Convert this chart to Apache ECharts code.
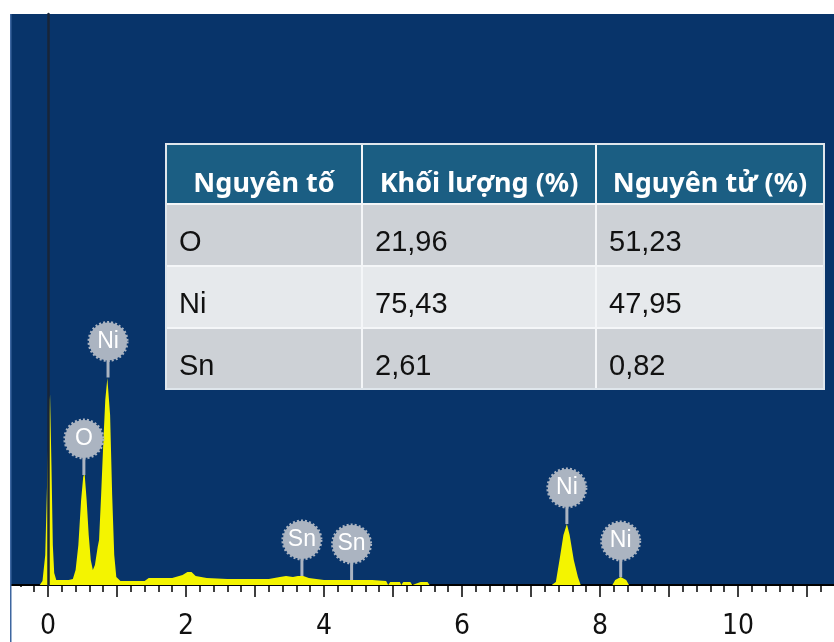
<!DOCTYPE html>
<html>
<head>
<meta charset="utf-8">
<script src="https://cdn.jsdelivr.net/npm/echarts@6/dist/echarts.min.js"></script>
<style>
  html, body { margin: 0; padding: 0; background: #ffffff; }
  #chart { width: 834px; height: 642px; }
</style>
</head>
<body>
<div id="chart"></div>
<script>
// EDS spectrum of the Ni–O–Sn sample: energy (keV) and counts
const energyKeV = [-1.0, -0.12, -0.08, -0.04, -0.01, 0.02, 0.03, 0.05, 0.07, 0.09, 0.12, 0.20, 0.30, 0.36, 0.40, 0.44, 0.48, 0.51, 0.53, 0.56, 0.59, 0.62, 0.65, 0.68, 0.72, 0.74, 0.77, 0.80, 0.83, 0.86, 0.88, 0.90, 0.93, 0.96, 0.99, 1.05, 1.20, 1.40, 1.46, 1.60, 1.80, 1.95, 2.02, 2.08, 2.14, 2.30, 2.60, 2.90, 3.20, 3.36, 3.45, 3.55, 3.62, 3.70, 3.78, 4.00, 4.40, 4.70, 4.90, 4.93, 4.96, 5.10, 5.12, 5.15, 5.25, 5.28, 5.40, 5.50, 5.53, 7.30, 7.36, 7.42, 7.47, 7.52, 7.56, 7.62, 7.68, 7.72, 8.18, 8.22, 8.30, 8.38, 8.42, 12.0];
const counts = [0, 0, 40, 300, 1100, 1850, 1900, 1200, 400, 120, 50, 50, 50, 60, 150, 400, 850, 1080, 1120, 850, 500, 250, 150, 200, 380, 450, 900, 1400, 1850, 2070, 2080, 1700, 900, 300, 80, 40, 40, 40, 70, 70, 70, 100, 130, 130, 90, 70, 60, 60, 60, 80, 90, 80, 90, 90, 70, 50, 50, 50, 40, 0, 30, 30, 0, 30, 30, 0, 30, 30, 0, 0, 30, 280, 500, 610, 500, 250, 80, 0, 0, 50, 80, 50, 0, 0];

// Identified peaks
const peakElements = ['O', 'Ni', 'Sn', 'Sn', 'Ni', 'Ni'];
const peakEnergies = [0.52, 0.87, 3.68, 4.40, 7.52, 8.30];

// Composition table
const tableHeader = ['Nguyên tố', 'Khối lượng (%)', 'Nguyên tử (%)'];
const tableElements = ['O', 'Ni', 'Sn'];
const massPercent = [21.96, 75.43, 2.61];
const atomicPercent = [51.23, 47.95, 0.82];

// Energy axis
const energyMin = -1;
const energyMax = 12;
const countsMax = 5710;

const spectrum = energyKeV.map((e, i) => [e, counts[i]]);

// Linear interpolation of the spectrum at a given energy
function countsAt(e) {
  for (let i = 1; i < energyKeV.length; i++) {
    if (e <= energyKeV[i]) {
      const e0 = energyKeV[i - 1], e1 = energyKeV[i];
      const t = (e - e0) / (e1 - e0);
      return counts[i - 1] + t * (counts[i] - counts[i - 1]);
    }
  }
  return 0;
}

const peakData = peakEnergies.map((e, i) => ({ name: peakElements[i], value: [e, countsAt(e)] }));

const fmt = v => v.toFixed(2).replace('.', ',');

// ---- table drawn as graphic elements ----
const colEdges = [166, 362, 596, 824];
const rowEdges = [144, 204, 266, 328, 389];
const bodyFills = ['#cdd1d6', '#e6e9ec', '#cdd1d6'];
const tableRows = tableElements.map((el, i) => [el, fmt(massPercent[i]), fmt(atomicPercent[i])]);

const tableGraphics = [];
tableGraphics.push({
  type: 'rect', z: 100,
  shape: { x: colEdges[0], y: rowEdges[0], width: colEdges[3] - colEdges[0], height: rowEdges[1] - rowEdges[0] },
  style: { fill: '#1b5e83' }
});
for (let r = 0; r < tableRows.length; r++) {
  tableGraphics.push({
    type: 'rect', z: 100,
    shape: { x: colEdges[0], y: rowEdges[r + 1], width: colEdges[3] - colEdges[0], height: rowEdges[r + 2] - rowEdges[r + 1] },
    style: { fill: bodyFills[r] }
  });
}
// inner grid lines
for (let c = 1; c < colEdges.length - 1; c++) {
  tableGraphics.push({
    type: 'line', z: 101,
    shape: { x1: colEdges[c], y1: rowEdges[0], x2: colEdges[c], y2: rowEdges[rowEdges.length - 1] },
    style: { stroke: '#f4f6f8', lineWidth: 2 }
  });
}
for (let r = 1; r < rowEdges.length - 1; r++) {
  tableGraphics.push({
    type: 'line', z: 101,
    shape: { x1: colEdges[0], y1: rowEdges[r], x2: colEdges[3], y2: rowEdges[r] },
    style: { stroke: '#f4f6f8', lineWidth: 2 }
  });
}
// outer frame
tableGraphics.push({
  type: 'rect', z: 102,
  shape: { x: colEdges[0], y: rowEdges[0], width: colEdges[3] - colEdges[0], height: rowEdges[4] - rowEdges[0] },
  style: { fill: 'none', stroke: '#dfe6ec', lineWidth: 2 }
});
// header text
tableHeader.forEach((h, c) => {
  tableGraphics.push({
    type: 'text', z: 103,
    x: (colEdges[c] + colEdges[c + 1]) / 2, y: 184,
    style: {
      text: h, fill: '#ffffff', align: 'center', verticalAlign: 'middle',
      font: 'bold 27px "Noto Sans", "Open Sans", sans-serif'
    }
  });
});
// body text
tableRows.forEach((row, r) => {
  row.forEach((cell, c) => {
    tableGraphics.push({
      type: 'text', z: 103,
      x: colEdges[c] + 13, y: (rowEdges[r + 1] + rowEdges[r + 2]) / 2 + 8,
      style: {
        text: cell, fill: '#111111', align: 'left', verticalAlign: 'middle',
        font: '29px "Liberation Sans", Arial, sans-serif'
      }
    });
  });
});

// page frame: white margin at the left with a thin edge line
const frameGraphics = [
  { type: 'rect', z: 90, shape: { x: 0, y: 0, width: 10, height: 642 }, style: { fill: '#ffffff' } },
  { type: 'rect', z: 90, shape: { x: 10, y: 587, width: 18, height: 20 }, style: { fill: '#ffffff' } },
  { type: 'rect', z: 91, shape: { x: 10, y: 14, width: 1.5, height: 628 }, style: { fill: '#3d66a0' } }
];

const chart = echarts.init(document.getElementById('chart'));

const cogColor = '#abb4c1';

chart.setOption({
  animation: false,
  backgroundColor: '#ffffff',
  grid: {
    left: -21, right: -42, top: 14, bottom: 57,
    containLabel: false,
    outerBoundsMode: 'none',
    show: true, backgroundColor: '#08346a', borderWidth: 0
  },
  xAxis: {
    type: 'value',
    min: energyMin, max: energyMax, interval: 1,
    axisLine: { show: true, onZero: false, lineStyle: { color: '#000000', width: 2 } },
    axisTick: { show: true, length: 12, lineStyle: { color: '#000000', width: 1.5 } },
    minorTick: { show: true, splitNumber: 5, length: 7, lineStyle: { color: '#000000', width: 1.5 } },
    axisLabel: {
      margin: 28,
      color: '#111111',
      fontSize: 28,
      fontFamily: '"DejaVu Sans Condensed", "Liberation Sans Narrow", "Liberation Sans", Arial, sans-serif',
      formatter: v => (v % 2 === 0 ? String(v) : '')
    },
    splitLine: { show: false }
  },
  yAxis: {
    type: 'value',
    min: 0, max: countsMax,
    z: 3,
    axisLine: { show: true, onZero: true, lineStyle: { color: '#182538', width: 2.5 } },
    axisTick: { show: false },
    axisLabel: { show: false },
    splitLine: { show: false }
  },
  graphic: frameGraphics.concat(tableGraphics),
  series: [
    {
      type: 'line',
      data: spectrum,
      symbol: 'none',
      smooth: false,
      lineStyle: { width: 0, opacity: 0 },
      areaStyle: { color: '#f4f400', opacity: 1 },
      z: 2
    },
    {
      // stems of the peak markers
      type: 'scatter',
      data: peakData,
      symbol: 'rect',
      symbolSize: [3, 18],
      symbolOffset: [0, -9],
      itemStyle: { color: cogColor, opacity: 1 },
      silent: true,
      z: 4
    },
    {
      // element badges
      type: 'scatter',
      data: peakData,
      symbol: 'circle',
      symbolSize: 38,
      symbolOffset: [0, -36],
      itemStyle: {
        color: cogColor, opacity: 1,
        borderColor: cogColor, borderWidth: 3, borderType: [2, 2]
      },
      label: {
        show: true, position: 'inside',
        formatter: p => p.name,
        color: '#ffffff', fontSize: 23,
        fontFamily: '"Liberation Sans", Arial, sans-serif'
      },
      silent: true,
      z: 5
    }
  ]
});
</script>
</body>
</html>
